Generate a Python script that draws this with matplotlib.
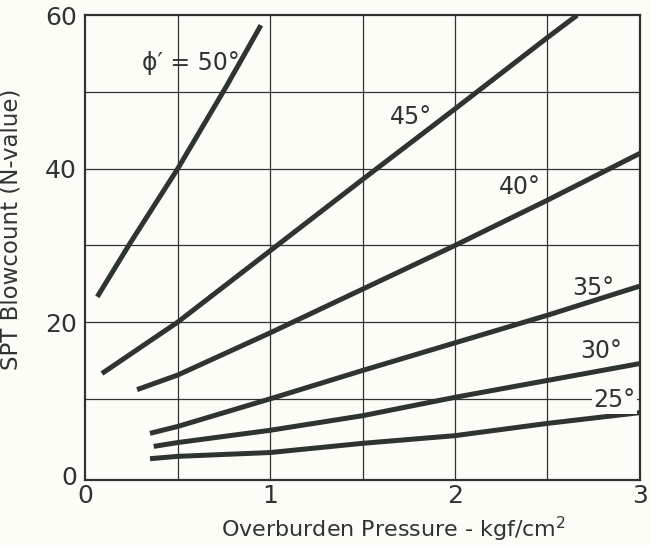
import matplotlib.pyplot as plt

# values
x50 = [0.065, 0.24, 0.5, 0.76, 0.95]
y50 = [23.3, 30.2, 40.0, 50.6, 58.7]

x45 = [0.09, 0.5, 1.0, 1.5, 2.0, 2.5, 2.66]
y45 = [13.3, 20.0, 29.3, 38.6, 47.8, 57.1, 60.0]

x40 = [0.28, 0.5, 1.0, 1.5, 2.0, 2.5, 3.0]
y40 = [11.2, 13.1, 18.6, 24.3, 30.0, 35.9, 42.0]

x35 = [0.35, 0.5, 1.0, 1.5, 2.0, 2.5, 3.0]
y35 = [5.5, 6.4, 10.0, 13.7, 17.3, 20.9, 24.7]

x30 = [0.37, 0.5, 1.0, 1.5, 2.0, 2.5, 3.0]
y30 = [3.8, 4.3, 5.9, 7.8, 10.2, 12.4, 14.6]

x25 = [0.35, 0.5, 1.0, 1.5, 2.0, 2.5, 3.0]
y25 = [2.2, 2.5, 3.0, 4.2, 5.2, 6.8, 8.2]

curve_labels = ["ϕ′ = 50°", "45°", "40°", "35°", "30°", "25°"]
label_x = [0.57, 1.76, 2.35, 2.75, 2.79, 2.86]
label_y = [53.8, 46.8, 37.6, 24.4, 16.2, 9.8]

xticks = [0, 1, 2, 3]
yticks = [0, 20, 40, 60]

ink = "#2e3530"
plt.rcParams["font.family"] = ["DejaVu Sans"]

fig = plt.figure(figsize=(6.51, 5.45), dpi=100)
fig.patch.set_facecolor("#fdfdf8")
ax = fig.add_axes([0.131, 0.119, 0.852, 0.853])
ax.set_facecolor("#fdfdf8")

ax.set_xlim(0, 3)
ax.set_ylim(-0.6, 60)

# grid every 0.5 in x and 10 in y
for gx in [0.5, 1.0, 1.5, 2.0, 2.5]:
    ax.axvline(gx, color=ink, lw=0.9, zorder=1)
for gy in [10, 20, 30, 40, 50]:
    ax.axhline(gy, color=ink, lw=0.9, zorder=1)

style = {"color": ink, "linewidth": 3.6, "solid_capstyle": "butt", "zorder": 3}
for xs, ys in [(x50, y50), (x45, y45), (x40, y40), (x35, y35), (x30, y30), (x25, y25)]:
    ax.plot(xs, ys, **style)

for i, (t, lx, ly) in enumerate(zip(curve_labels, label_x, label_y)):
    kw = {}
    if i == 5:
        kw["bbox"] = dict(facecolor="#fdfdf8", edgecolor="none", pad=1)
    ax.text(lx, ly, t, fontsize=17, color=ink, ha="center", va="center", zorder=4, **kw)

ax.set_xticks(xticks)
ax.set_yticks(yticks)
ax.tick_params(length=0, labelsize=18, colors=ink)
ax.tick_params(axis="x", pad=3)
ax.tick_params(axis="y", pad=6)
for s in ax.spines.values():
    s.set_color(ink)
    s.set_linewidth(1.6)

ax.set_xlabel("Overburden Pressure - kgf/cm$^2$", fontsize=16, color=ink)
ax.xaxis.set_label_coords(0.555, -0.074)
ax.set_ylabel("SPT Blowcount (N-value)", fontsize=16.5, color=ink)
ax.yaxis.set_label_coords(-0.113, 0.54)

fig.savefig("out.png", dpi=100, facecolor=fig.get_facecolor())
